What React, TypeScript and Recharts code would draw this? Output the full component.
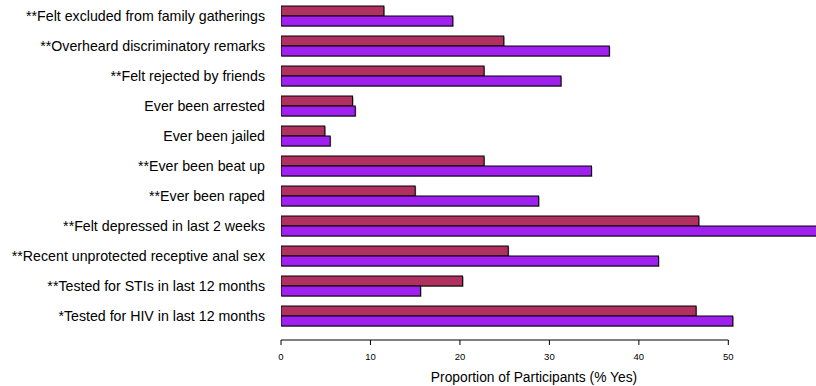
import React from 'react';
import { BarChart, Bar, XAxis, YAxis } from 'recharts';

// Survey items, top to bottom
const categories = [
  '**Felt excluded from family gatherings',
  '**Overheard discriminatory remarks',
  '**Felt rejected by friends',
  'Ever been arrested',
  'Ever been jailed',
  '**Ever been beat up',
  '**Ever been raped',
  '**Felt depressed in last 2 weeks',
  '**Recent unprotected receptive anal sex',
  '**Tested for STIs in last 12 months',
  '*Tested for HIV in last 12 months',
];

// Proportion answering yes (%), first group (maroon) and second group (purple)
const groupA = [11.5, 24.9, 22.7, 8.0, 4.9, 22.7, 15.0, 46.7, 25.4, 20.3, 46.4];
const groupB = [19.2, 36.7, 31.3, 8.3, 5.5, 34.7, 28.8, 62.0, 42.2, 15.6, 50.5];

const xTicks = [0, 10, 20, 30, 40, 50];
const X_MAX = 59.8;

const data = categories.map((name, i) => ({ name, a: groupA[i], b: groupB[i] }));

// Base-graphics style axis: line runs only from the first to the last tick,
// sitting a little below the plotting region.
function XTick(props: any) {
  const { x, y, payload, index, width } = props;
  const pxPerUnit = Number(width) / X_MAX;
  const lineY = y + 9;
  const first = xTicks[0];
  const last = xTicks[xTicks.length - 1];
  return (
    <g>
      {index === 0 && Number.isFinite(pxPerUnit) && (
        <line
          x1={x}
          x2={x + (last - first) * pxPerUnit}
          y1={lineY}
          y2={lineY}
          stroke="#000"
          strokeWidth={1}
        />
      )}
      <line x1={x} x2={x} y1={lineY} y2={lineY + 5} stroke="#000" strokeWidth={1} />
      <text x={x} y={lineY + 19.5} textAnchor="middle" fontSize={9.5} fill="#000">
        {payload.value}
      </text>
    </g>
  );
}

// Bar with a thin grey drop shadow on its right and lower edges
function ShadowBar(props: any) {
  const { x, y, width, height, fill } = props;
  if (!Number.isFinite(x) || !Number.isFinite(width)) return null;
  return (
    <g>
      <rect x={x + 1} y={y + 1} width={width} height={height} fill="#a8a8a8" />
      <rect x={x} y={y} width={width} height={height} fill={fill} stroke="#000" strokeWidth={1} />
    </g>
  );
}

export default function App() {
  return (
    <div
      style={{
        position: 'absolute',
        left: 0,
        top: 0,
        fontFamily: '"Liberation Sans", Arial, Helvetica, sans-serif',
      }}
    >
      <BarChart
        width={816}
        height={386}
        data={data}
        layout="vertical"
        margin={{ top: 1, right: 0, bottom: 0, left: 0 }}
        barSize={10}
        barGap={0}
      >
        <XAxis
          type="number"
          domain={[0, X_MAX]}
          allowDataOverflow
          ticks={xTicks}
          interval={0}
          height={55}
          axisLine={false}
          tickLine={false}
          tickSize={0}
          tickMargin={0}
          tick={<XTick />}
          label={{
            value: 'Proportion of Participants (% Yes)',
            position: 'insideBottom',
            offset: 4,
            dx: -14.5,
            fontSize: 13.8,
            fill: '#000',
          }}
        />
        <YAxis
          type="category"
          dataKey="name"
          width={281}
          interval={0}
          axisLine={false}
          tickLine={false}
          tickSize={0}
          tickMargin={16}
          tick={{ fontSize: 14.2, fill: '#000' }}
        />
        <Bar dataKey="a" fill="#B03060" shape={<ShadowBar />} isAnimationActive={false} />
        <Bar dataKey="b" fill="#A020F0" shape={<ShadowBar />} isAnimationActive={false} />
      </BarChart>
    </div>
  );
}
